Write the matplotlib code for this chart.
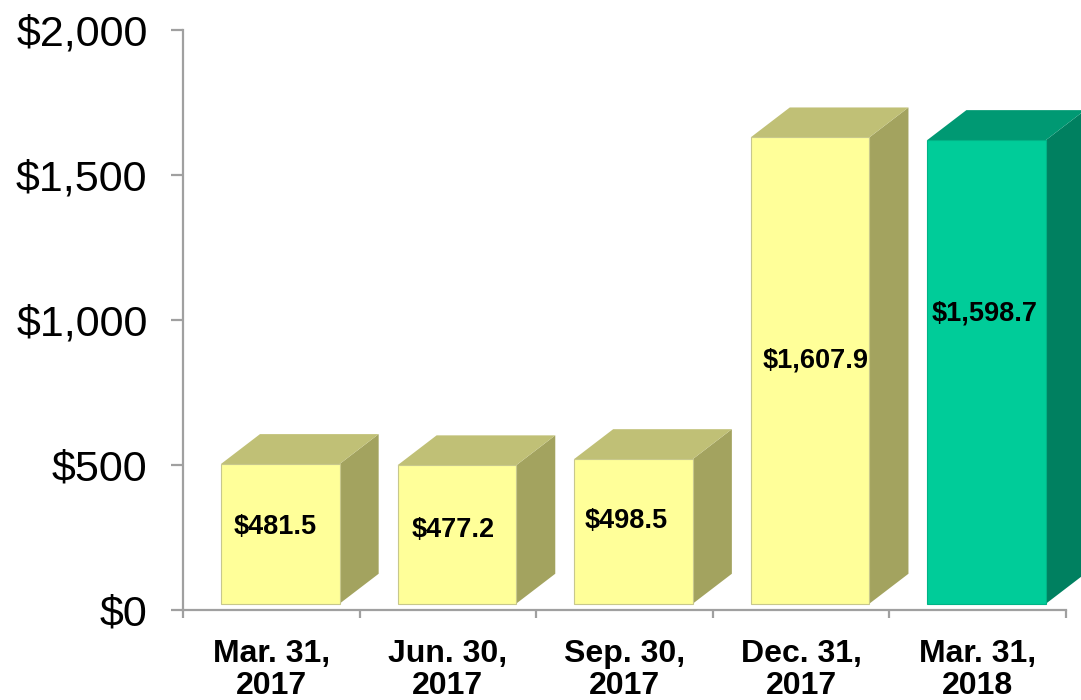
import matplotlib.pyplot as plt
from matplotlib.patches import Polygon, Rectangle

plt.rcParams['font.family'] = ['Liberation Sans', 'DejaVu Sans']

# data
categories = ["Mar. 31,\n2017", "Jun. 30,\n2017", "Sep. 30,\n2017", "Dec. 31,\n2017", "Mar. 31,\n2018"]
values = [481.5, 477.2, 498.5, 1607.9, 1598.7]
value_labels = ["$481.5", "$477.2", "$498.5", "$1,607.9", "$1,598.7"]
yticks = [0, 500, 1000, 1500, 2000]
ytick_labels = ["$0", "$500", "$1,000", "$1,500", "$2,000"]

# look of the fake 3d bars
yellow = ("#FFFF99", "#C0C076", "#A3A35F", "#C8C88C")   # front, top, side, edge
green = ("#00CC99", "#009973", "#008060", "#00B386")
bar_colors = [yellow, yellow, yellow, yellow, green]
label_y = [286, 276, 307, 862, 1024]   # where the value text sits (value units)
label_dx = [-0.03, -0.02, -0.04, 0.03, -0.01]

x0_off, x1_off = -0.285, 0.387   # front face relative to category centre
dx, dy = 0.221, 103              # depth offset
base = 22                        # front face sits a bit above the axis

fig = plt.figure(figsize=(10.81, 7.0), dpi=100)
ax = fig.add_axes([183 / 1081, 90 / 700, 1 - 183 / 1081, 580 / 700])
ax.set_xlim(-0.5, 4.585)
ax.set_ylim(0, 2000)

for i, v in enumerate(values):
    front, top, side, edge = bar_colors[i]
    x0 = i + x0_off
    x1 = i + x1_off
    yt = base + v
    ax.add_patch(Polygon([(x1, base), (x1 + dx, base + dy), (x1 + dx, yt + dy), (x1, yt)],
                         closed=True, facecolor=side, edgecolor='none', zorder=2))
    ax.add_patch(Polygon([(x0, yt), (x1, yt), (x1 + dx, yt + dy), (x0 + dx, yt + dy)],
                         closed=True, facecolor=top, edgecolor='none', zorder=2))
    ax.add_patch(Rectangle((x0, base), x1 - x0, v, facecolor=front,
                           edgecolor=edge, linewidth=0.8, zorder=3))
    ax.text((x0 + x1) / 2 + label_dx[i], label_y[i], value_labels[i], ha='center', va='center',
            fontsize=19.5, fontweight='bold', color='black', zorder=4)

for s in ['top', 'right']:
    ax.spines[s].set_visible(False)
for s in ['left', 'bottom']:
    ax.spines[s].set_color('#A0A0A0')
    ax.spines[s].set_linewidth(1.6)
ax.spines['bottom'].set_bounds(-0.5, 4.5)

ax.set_yticks(yticks)
ax.set_yticklabels(ytick_labels, fontsize=31)
ax.tick_params(axis='y', direction='out', length=8.5, width=1.6, color='#A0A0A0', pad=17)

ax.set_xticks(range(len(categories)))
ax.set_xticklabels(categories, fontsize=23, fontweight='bold', linespacing=1.1)
ax.set_xticks([i - 0.5 for i in range(len(categories) + 1)], minor=True)
ax.tick_params(axis='x', which='major', length=0, pad=21)
ax.tick_params(axis='x', which='minor', direction='out', length=6, width=1.6, color='#A0A0A0')

fig.savefig('out.png', dpi=100)
